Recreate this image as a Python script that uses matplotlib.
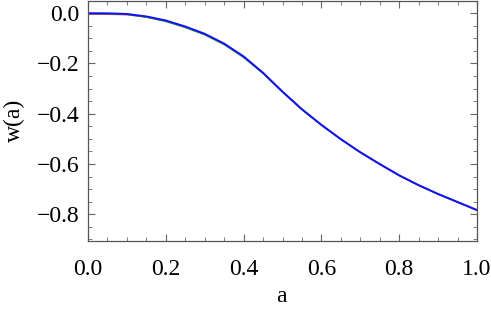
import matplotlib
matplotlib.use("Agg")
import matplotlib.pyplot as plt
from matplotlib.ticker import MultipleLocator

# values
a = [0.0, 0.05, 0.1, 0.15, 0.2, 0.25, 0.3, 0.35, 0.4, 0.45, 0.5,
     0.55, 0.6, 0.65, 0.7, 0.75, 0.8, 0.85, 0.9, 0.95, 1.0]
w_blue = [0.0, -0.0005, -0.003, -0.013, -0.029, -0.053, -0.082, -0.121, -0.172, -0.237, -0.312,
          -0.382, -0.444, -0.501, -0.553, -0.600, -0.645, -0.684, -0.719, -0.751, -0.783]
w_red = [-0.004, -0.0045, -0.006, -0.015, -0.031, -0.055, -0.084, -0.123, -0.174, -0.239, -0.313,
         -0.383, -0.445, -0.502, -0.554, -0.601, -0.646, -0.685, -0.720, -0.752, -0.784]
w_green = [-0.002, -0.0025, -0.005, -0.016, -0.033, -0.057, -0.086, -0.125, -0.176, -0.240, -0.314,
           -0.384, -0.446, -0.502, -0.554, -0.601, -0.646, -0.685, -0.720, -0.752, -0.784]

plt.rcParams['font.family'] = ['Liberation Serif', 'DejaVu Serif']

fig = plt.figure(figsize=(4.91, 3.12), dpi=100)
ax = fig.add_axes([88 / 491, 1 - 240.7 / 312, 389 / 491, 240.7 / 312 - 0.002])

ax.plot(a, w_red, color='#ff3030', lw=1.0)
ax.plot(a, w_green, color='#30a030', lw=1.0)
ax.plot(a, w_blue, color='#1010ff', lw=1.4)

ax.set_xlim(0, 1)
ax.set_ylim(-0.905, 0.05)

ax.xaxis.set_major_locator(MultipleLocator(0.2))
ax.xaxis.set_minor_locator(MultipleLocator(0.05))
ax.yaxis.set_major_locator(MultipleLocator(0.2))
ax.yaxis.set_minor_locator(MultipleLocator(0.05))
ax.xaxis.set_major_formatter(lambda v, p: f"{v:.1f}".replace("-", "\u2212"))
ax.yaxis.set_major_formatter(lambda v, p: f"{v:.1f}".replace("-", "\u2212"))

ax.tick_params(which='both', direction='in', top=True, right=True, color='#666666')
ax.tick_params(which='major', length=5, width=0.8, labelsize=17)
ax.tick_params(which='minor', length=3, width=0.6)
ax.tick_params(axis='x', which='major', pad=13)
ax.tick_params(axis='y', which='major', pad=6)
for s in ax.spines.values():
    s.set_color('#555555')
    s.set_linewidth(0.9)

ax.set_xlabel("a", fontsize=17)
ax.set_ylabel("w(a)", fontsize=17)
ax.xaxis.set_label_coords(0.496, -0.234)
ax.yaxis.set_label_coords(-0.188, 0.5)
ax.xaxis.label.set_va('center')
ax.yaxis.label.set_va('center')

fig.savefig("out.png", dpi=100)
